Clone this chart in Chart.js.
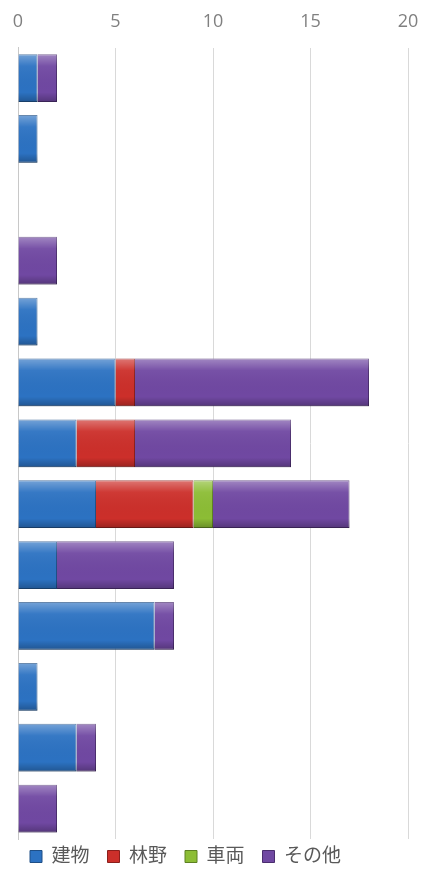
<!DOCTYPE html>
<html>
<head>
<meta charset="utf-8">
<script src="https://cdn.jsdelivr.net/npm/chart.js@4"></script>
<style>
  html, body { margin: 0; padding: 0; background: #fff; }
  #wrap { width: 429px; height: 869px; }
</style>
</head>
<body>
<div id="wrap"><canvas id="fire-chart"></canvas></div>
<script>
const categories = ['1', '2', '3', '4', '5', '6', '7', '8', '9', '10', '11', '12', '13'];
const buildings = [1, 1, 0, 0, 1, 5, 3, 4, 2, 7, 1, 3, 0];
const forest    = [0, 0, 0, 0, 0, 1, 3, 5, 0, 0, 0, 0, 0];
const vehicles  = [0, 0, 0, 0, 0, 0, 0, 1, 0, 0, 0, 0, 0];
const others    = [1, 0, 0, 2, 0, 12, 8, 7, 6, 1, 0, 1, 2];
const xTicks = [0, 5, 10, 15, 20];

const fontFamily = '"Open Sans", "Noto Sans CJK JP", sans-serif';

// soft bevel on each bar, like the office-style 3D fill
const bevel = {
  id: 'bevel',
  afterDatasetsDraw(chart) {
    const ctx = chart.ctx;
    chart.data.datasets.forEach((ds, i) => {
      chart.getDatasetMeta(i).data.forEach(bar => {
        const left = Math.min(bar.x, bar.base), w = Math.abs(bar.x - bar.base);
        if (w < 0.5) return;
        const top = bar.y - bar.height / 2, h = bar.height;
        const g = ctx.createLinearGradient(0, top, 0, top + h);
        g.addColorStop(0, 'rgba(255,255,255,0.35)');
        g.addColorStop(0.25, 'rgba(255,255,255,0.05)');
        g.addColorStop(0.8, 'rgba(0,0,0,0)');
        g.addColorStop(1, 'rgba(0,0,0,0.25)');
        ctx.save();
        ctx.fillStyle = g;
        ctx.fillRect(left, top, w, h);
        ctx.restore();
      });
    });
  }
};

// legend sits a little closer to the plot than its padding would allow
const nudgeLegend = {
  id: 'nudgeLegend',
  afterLayout(chart) {
    if (chart.legend) {
      chart.legend.top -= 10;
      chart.legend.left += 2;
    }
  }
};

const mk = (label, data, color, border) => ({
  label, data,
  backgroundColor: color,
  borderColor: border,
  borderWidth: 1,
  categoryPercentage: 0.8,
  barPercentage: 0.98
});

new Chart(document.getElementById('fire-chart').getContext('2d'), {
  type: 'bar',
  data: {
    labels: categories,
    datasets: [
      mk('建物', buildings, '#2c72c2', '#1f4f86'),
      mk('林野', forest, '#cc2f2a', '#8a1f1c'),
      mk('車両', vehicles, '#8cbd35', '#5d8022'),
      mk('その他', others, '#7048a2', '#4a2d6e')
    ]
  },
  options: {
    indexAxis: 'y',
    responsive: true,
    maintainAspectRatio: false,
    animation: false,
    layout: { padding: { left: 10, right: 21, top: -4, bottom: 2 } },
    scales: {
      x: {
        position: 'top',
        stacked: true,
        min: 0,
        max: 20,
        afterBuildTicks: axis => { axis.ticks = xTicks.map(v => ({ value: v })); },
        // tick padding pushes the side margins too, the layout padding handles those
        afterFit: axis => { axis.paddingLeft = 0; axis.paddingRight = 0; },
        ticks: { color: '#808080', font: { family: fontFamily, size: 18 }, padding: 15 },
        grid: { color: '#d9d9d9', drawTicks: false },
        border: { display: false }
      },
      y: {
        stacked: true,
        ticks: { display: false },
        grid: { display: false },
        border: { display: true, color: '#c8c8c8' }
      }
    },
    plugins: {
      legend: {
        position: 'bottom',
        align: 'start',
        maxHeight: 28,
        labels: {
          color: '#595959',
          font: { family: fontFamily, size: 19 },
          boxWidth: 12,
          boxHeight: 12,
          padding: 18
        }
      },
      tooltip: { enabled: false }
    }
  },
  plugins: [bevel, nudgeLegend]
});
</script>
</body>
</html>
